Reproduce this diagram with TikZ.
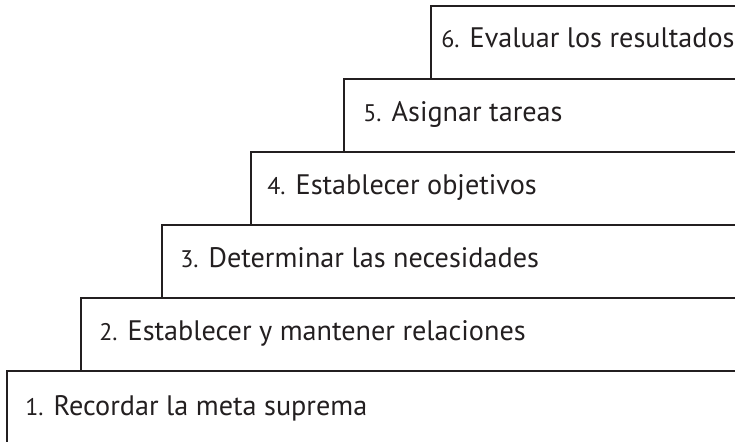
\documentclass[tikz,border=0pt]{standalone}
\usepackage{fontspec}
\setmainfont{PT Sans}
\usepackage{tikz}

\definecolor{tinta}{HTML}{231F20}
\newcommand{\numero}[1]{{\fontsize{12}{14}\selectfont #1}}

\begin{document}
\begin{tikzpicture}[x=0.5pt,y=0.5pt,
  escalon/.style={draw=tinta, line width=1pt},
  etiqueta/.style={anchor=base west, inner sep=0pt, text=tinta,
    font=\fontsize{14.1}{16}\selectfont}]
\useasboundingbox (0,0) rectangle (735,441);
\clip (0,0) rectangle (735,441);
% escalones, abiertos por la derecha
\draw[escalon] (740,362) -- (431,362) -- (431,435) -- (740,435);
\draw[escalon] (740,289) -- (343.5,289) -- (343.5,362) -- (740,362);
\draw[escalon] (740,216) -- (251,216) -- (251,289) -- (740,289);
\draw[escalon] (740,143) -- (162,143) -- (162,216) -- (740,216);
\draw[escalon] (740,70) -- (81,70) -- (81,143) -- (740,143);
\draw[escalon] (740,-5) -- (7,-5) -- (7,70) -- (740,70);
% textos
\node[etiqueta] (paso6) at (441,394) {\numero{6.} Evaluar los resultados};
\node[etiqueta] (paso5) at (363,320) {\numero{5.} Asignar tareas};
\node[etiqueta] (paso4) at (267,247) {\numero{4.} Establecer objetivos};
\node[etiqueta] (paso3) at (180,174) {\numero{3.} Determinar las necesidades};
\node[etiqueta] (paso2) at (99,101) {\numero{2.} Establecer y mantener relaciones};
\node[etiqueta] (paso1) at (25,26) {\numero{1.} Recordar la meta suprema};
\end{tikzpicture}
\end{document}
